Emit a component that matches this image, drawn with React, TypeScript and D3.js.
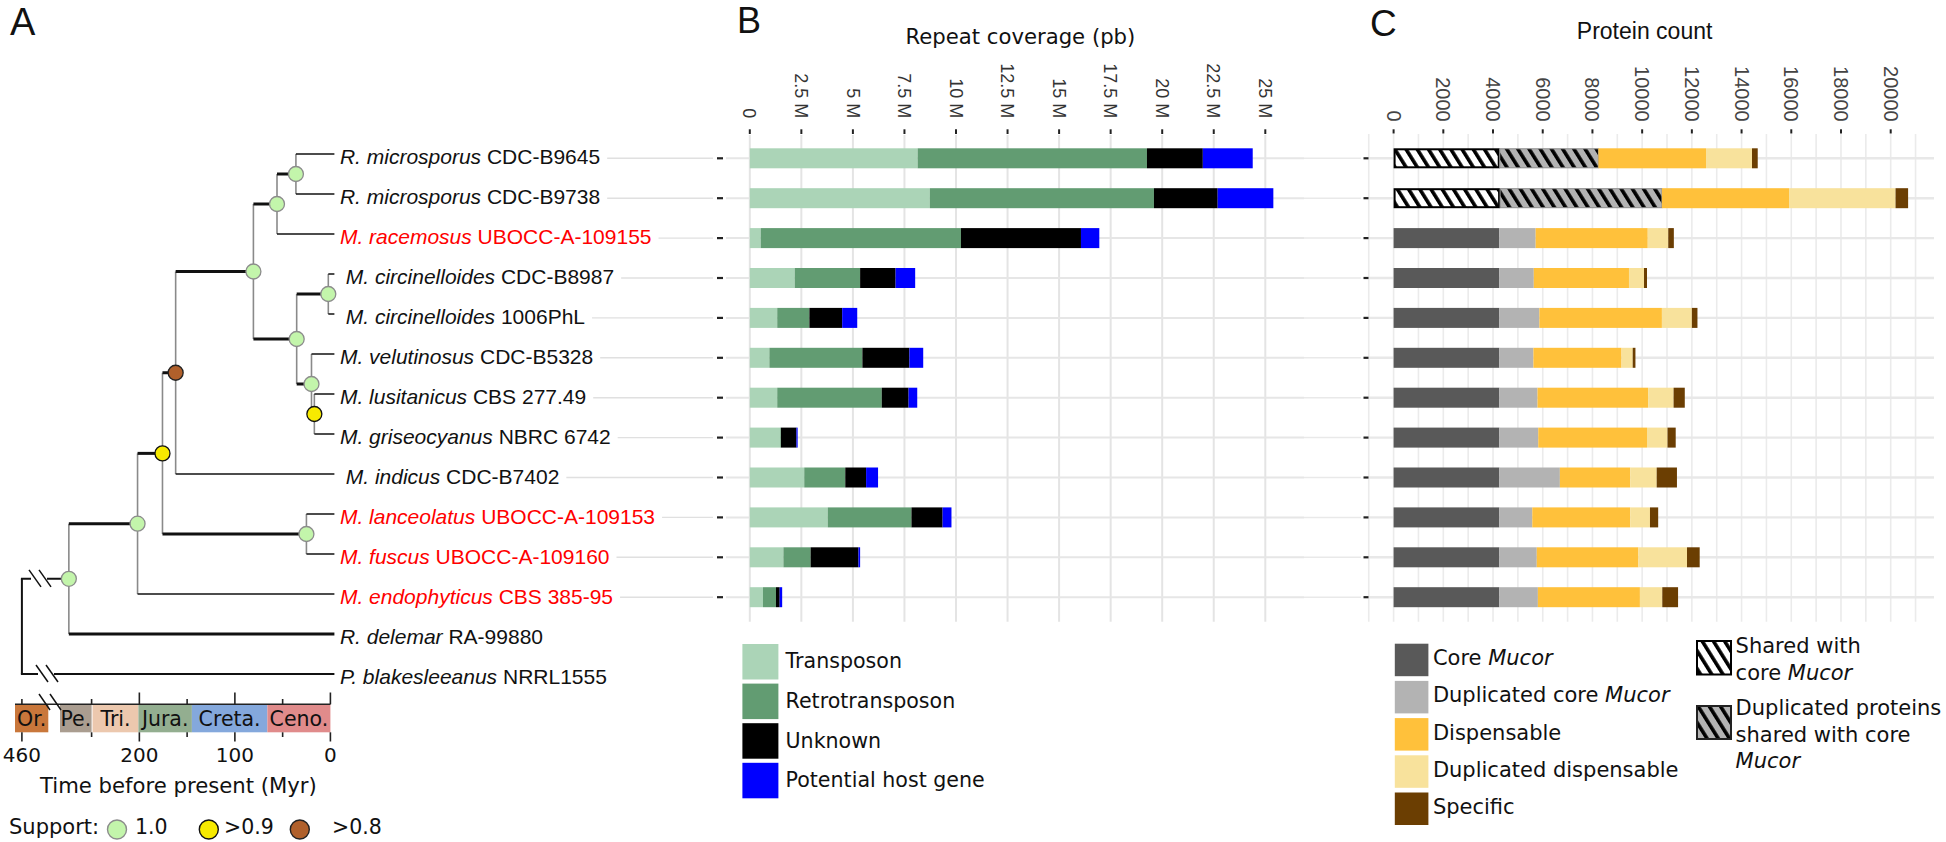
import React, { useMemo } from 'react';
import * as d3 from 'd3';

const W = 1946;
const H = 842;
const ARIAL = "'Liberation Sans', Arial, Helvetica, sans-serif";
const DV = "'DejaVu Sans', Verdana, sans-serif";

// ---------- Panel A data ----------
const species = [
  'R. microsporus', 'R. microsporus', 'M. racemosus', '\u00a0M. circinelloides', '\u00a0M. circinelloides',
  'M. velutinosus', 'M. lusitanicus', 'M. griseocyanus', '\u00a0M. indicus', 'M. lanceolatus',
  'M. fuscus', 'M. endophyticus', 'R. delemar', 'P. blakesleeanus',
];
const strains = [
  'CDC-B9645', 'CDC-B9738', 'UBOCC-A-109155', 'CDC-B8987', '1006PhL', 'CDC-B5328', 'CBS 277.49',
  'NBRC 6742', 'CDC-B7402', 'UBOCC-A-109153', 'UBOCC-A-109160', 'CBS 385-95', 'RA-99880', 'NRRL1555',
];
const newSpecies = [false, false, true, false, false, false, false, false, false, true, true, true, false, false];

type TN = { age: number; support?: number; tip?: number; children?: TN[] };
const tip = (i: number): TN => ({ age: 0, tip: i });
const tree: TN = {
  age: 460,
  children: [
    {
      age: 286, support: 1,
      children: [
        {
          age: 201.9, support: 1,
          children: [
            {
              age: 175.8, support: 0.95,
              children: [
                {
                  age: 162, support: 0.85,
                  children: [
                    {
                      age: 80.6, support: 1,
                      children: [
                        { age: 55.9, support: 1, children: [{ age: 36.1, support: 1, children: [tip(0), tip(1)] }, tip(2)] },
                        {
                          age: 35.3, support: 1,
                          children: [
                            { age: 2.2, support: 1, children: [tip(3), tip(4)] },
                            { age: 19.8, support: 1, children: [tip(5), { age: 16.8, support: 0.95, children: [tip(6), tip(7)] }] },
                          ],
                        },
                      ],
                    },
                    tip(8),
                  ],
                },
                { age: 25.1, support: 1, children: [tip(9), tip(10)] },
              ],
            },
            tip(11),
          ],
        },
        tip(12),
      ],
    },
    tip(13),
  ],
};

const periods = ['Or.', 'Pe.', 'Tri.', 'Jura.', 'Creta.', 'Ceno.'];
const periodStart = [490, 300, 249, 201, 145, 66];
const periodEnd = [350, 250, 201, 145, 66, 0];
const periodColors = ['#c9773b', '#aa9d90', '#ecc8ae', '#93ae90', '#84a8dc', '#e08b8b'];
const timeTicks = [460, 250, 200, 150, 100, 50, 0];
const timeLabels = [460, 200, 100, 0];

// ---------- Panel B data (Mb) ----------
const repeatKeys = ['transposon', 'retro', 'unknown', 'host'];
const repeatNames = ['Transposon', 'Retrotransposon', 'Unknown', 'Potential host gene'];
const repeatColors = ['#abd4b7', '#629c72', '#000000', '#0000ff'];
const transposon = [8.14, 8.73, 0.53, 2.18, 1.33, 0.95, 1.33, 1.48, 2.64, 3.78, 1.63, 0.64];
const retro = [11.12, 10.87, 9.71, 3.17, 1.56, 4.51, 5.07, 0.03, 1.99, 4.06, 1.32, 0.63];
const unknown = [2.71, 3.09, 5.82, 1.72, 1.59, 2.28, 1.3, 0.75, 1.01, 1.51, 2.32, 0.18];
const host = [2.42, 2.7, 0.89, 0.95, 0.73, 0.67, 0.42, 0.06, 0.58, 0.43, 0.08, 0.12];
const repeatTicks = [0, 2.5, 5, 7.5, 10, 12.5, 15, 17.5, 20, 22.5, 25];

// ---------- Panel C data (protein counts) ----------
const protKeys = ['core', 'dupCore', 'disp', 'dupDisp', 'specific'];
const protColors = ['#595959', '#b3b3b3', '#ffc13b', '#f8e29c', '#6b3e02'];
const core = [4270, 4285, 4255, 4255, 4255, 4255, 4255, 4255, 4255, 4255, 4255, 4255];
const dupCore = [3970, 6510, 1460, 1385, 1610, 1370, 1535, 1565, 2435, 1325, 1505, 1550];
const disp = [4330, 5115, 4510, 3830, 4930, 3545, 4450, 4375, 2830, 3940, 4090, 4105];
const dupDisp = [1850, 4285, 825, 605, 1205, 450, 1025, 825, 1065, 795, 1955, 900];
const specific = [230, 505, 225, 120, 225, 110, 450, 330, 815, 330, 510, 635];
const sharedRows = [true, true, false, false, false, false, false, false, false, false, false, false];
const protTicks = [0, 2000, 4000, 6000, 8000, 10000, 12000, 14000, 16000, 18000, 20000];

// ---------- helpers ----------
let ctx: CanvasRenderingContext2D | null = null;
function textWidth(s: string, font: string) {
  if (!ctx && typeof document !== 'undefined') ctx = document.createElement('canvas').getContext('2d');
  if (!ctx) return s.length * 11;
  ctx.font = font;
  return ctx.measureText(s).width;
}

function supportFill(s: number) {
  if (s >= 1) return { fill: '#c3f5ab', stroke: '#8c8c8c' };
  if (s >= 0.9) return { fill: '#f7ea00', stroke: '#111' };
  return { fill: '#b0602b', stroke: '#222' };
}

export default function App() {
  const timeX = d3.scaleLinear().domain([0, 250, 300, 350, 460, 490]).range([330.4, 91.6, 60, 48.3, 21.9, 15]);
  const tipY = d3.scaleLinear().domain([0, 13]).range([154, 674]);
  const rowY = d3.scaleLinear().domain([0, 11]).range([158.3, 597.2]);
  const xB = d3.scaleLinear().domain([0, 25]).range([749.8, 1265.3]);
  const xC = d3.scaleLinear().domain([0, 20000]).range([1393.6, 1890.7]);
  const barH = 20;

  const h = useMemo(() => {
    const r = d3.hierarchy<TN>(tree);
    r.eachAfter((n: any) => {
      if (!n.children) n.yy = tipY(n.data.tip);
      else n.yy = (n.children[0].yy + n.children[n.children.length - 1].yy) / 2;
    });
    return r;
  }, []);

  const tipExt = 4;
  const nodeX = (n: any) => timeX(n.data.age) + (n.children ? 0 : tipExt);

  const repeatRows = transposon.map((_, i) => ({ transposon: transposon[i], retro: retro[i], unknown: unknown[i], host: host[i] }));
  const repeatStack = d3.stack<any>().keys(repeatKeys)(repeatRows);
  const protRows = core.map((_, i) => ({ core: core[i], dupCore: dupCore[i], disp: disp[i], dupDisp: dupDisp[i], specific: specific[i] }));
  const protStack = d3.stack<any>().keys(protKeys)(protRows);

  const nodes: any[] = h.descendants();
  const links: any[] = h.links();

  return (
    <svg width={W} height={H} viewBox={`0 0 ${W} ${H}`} style={{ position: 'absolute', left: 0, top: 0, background: '#fff' }} fontFamily={ARIAL}>
      <defs>
        <pattern id="hatchW" patternUnits="userSpaceOnUse" width="9.5" height="9.5" patternTransform="rotate(-32)">
          <rect width="9.5" height="9.5" fill="#ffffff" />
          <rect width="3.6" height="9.5" fill="#000" />
        </pattern>
        <pattern id="hatchG" patternUnits="userSpaceOnUse" width="9.5" height="9.5" patternTransform="rotate(-32)">
          <rect width="9.5" height="9.5" fill="#b3b3b3" />
          <rect width="3.6" height="9.5" fill="#000" />
        </pattern>
      </defs>

      {/* panel letters */}
      <text x={10} y={35} fontSize={38} fill="#111">A</text>
      <text x={737} y={33} fontSize={36} fill="#111">B</text>
      <text x={1370} y={36} fontSize={37} fill="#111">C</text>

      {/* ========== Panel A: tree ========== */}
      <g>
        {nodes.filter((n) => n.children).map((n, k) => (
          <line key={'v' + k} x1={nodeX(n)} x2={nodeX(n)} y1={n.children[0].yy} y2={n.children[n.children.length - 1].yy}
            stroke={n.depth === 0 ? '#111' : '#8a8a8a'} strokeWidth={n.depth === 0 ? 2 : 1.6} />
        ))}
        {links.map((l, k) => {
          const t = l.target;
          let w = t.children ? 3 : 1.5;
          if (l.source.depth === 0) w = 2;
          else if (!t.children && t.data.tip === 12) w = 3;
          return <line key={'h' + k} x1={nodeX(l.source) - (l.source.depth === 0 ? 1 : 0)} x2={nodeX(t)} y1={t.yy} y2={t.yy} stroke="#111" strokeWidth={w} />;
        })}
        {/* axis breaks on the root branches */}
        {h.children!.map((c: any, k) => {
          const x0 = k === 0 ? 29 : 36;
          return (
            <g key={'br' + k} stroke="#111" strokeWidth={1.5}>
              <rect x={x0 + 2} y={c.yy - 3} width={16} height={6} fill="#fff" stroke="none" />
              <line x1={x0} y1={c.yy - 9} x2={x0 + 12} y2={c.yy + 8} />
              <line x1={x0 + 10} y1={c.yy - 9} x2={x0 + 22} y2={c.yy + 8} />
            </g>
          );
        })}
        {nodes.filter((n) => n.children && n.data.support !== undefined).map((n, k) => {
          const s = supportFill(n.data.support);
          return <circle key={'c' + k} cx={nodeX(n)} cy={n.yy} r={7.5} fill={s.fill} stroke={s.stroke} strokeWidth={1.3} />;
        })}
        {species.map((sp, i) => {
          const x = timeX(0) + tipExt + 5.5;
          const wTxt = textWidth(sp, "italic 21px 'Liberation Sans'") + textWidth(' ' + strains[i], "21px 'Liberation Sans'");
          return (
            <g key={'lab' + i}>
              <text x={x} y={tipY(i) + 9.5} fontSize={21} fill={newSpecies[i] ? '#ff0000' : '#111'} style={{ whiteSpace: 'pre' }}>
                <tspan fontStyle="italic">{sp}</tspan>
                <tspan>{' ' + strains[i]}</tspan>
              </text>
              {i < 12 && <line x1={x + wTxt + 7} x2={713} y1={rowY(i)} y2={rowY(i)} stroke="#e0e0e0" strokeWidth={1.4} />}
            </g>
          );
        })}

        {/* geological time scale */}
        {periods.map((p, i) => {
          const x1 = timeX(periodStart[i]);
          const x2 = timeX(periodEnd[i]);
          return (
            <g key={'p' + i}>
              <rect x={x1} y={704.3} width={x2 - x1} height={28} fill={periodColors[i]} />
              <text x={(x1 + x2) / 2} y={726} textAnchor="middle" fontFamily={DV} fontSize={20.5} fill="#111">{p}</text>
            </g>
          );
        })}
        <line x1={timeX(490)} x2={timeX(0)} y1={704.3} y2={704.3} stroke="#222" strokeWidth={1.6} />
        {timeTicks.map((t) => {
          const major = t === 200 || t === 100 || t === 0;
          const x = timeX(t);
          return (
            <g key={'tt' + t} stroke="#222" strokeWidth={1.6}>
              <line x1={x} x2={x} y1={major ? 692.5 : 699} y2={704.3} />
              <line x1={x} x2={x} y1={732.3} y2={major || t === 460 ? 741.5 : 737} />
            </g>
          );
        })}
        <g stroke="#111" strokeWidth={1.5}>
          <line x1={39} y1={694} x2={50} y2={710} />
          <line x1={50} y1={694} x2={61} y2={710} />
        </g>
        {timeLabels.map((t) => (
          <text key={'tl' + t} x={timeX(t)} y={761.7} textAnchor="middle" fontFamily={DV} fontSize={20} fill="#111">{t}</text>
        ))}
        <text x={40} y={793.3} fontFamily={DV} fontSize={21.2} fill="#111">Time before present (Myr)</text>

        {/* support legend */}
        <text x={9} y={833.5} fontFamily={DV} fontSize={21} fill="#111">Support:</text>
        {[1, 0.95, 0.85].map((s, k) => {
          const cx = [117, 208.8, 299.8][k];
          const f = supportFill(s);
          return <circle key={'sl' + k} cx={cx} cy={829.5} r={9.5} fill={f.fill} stroke={f.stroke} strokeWidth={1.4} />;
        })}
        <text x={135} y={833.5} fontFamily={DV} fontSize={20.5} fill="#111">1.0</text>
        <text x={224} y={833.5} fontFamily={DV} fontSize={20.5} fill="#111">&gt;0.9</text>
        <text x={332} y={833.5} fontFamily={DV} fontSize={20.5} fill="#111">&gt;0.8</text>
      </g>

      {/* ========== Panel B ========== */}
      <g>
        <text x={1020.4} y={44.3} textAnchor="middle" fontFamily={DV} fontSize={21.2} fill="#111">Repeat coverage (pb)</text>
        {repeatTicks.map((t) => (
          <line key={'bg' + t} x1={xB(t)} x2={xB(t)} y1={135} y2={621.7} stroke="#e4e4e4" strokeWidth={2} />
        ))}
        {transposon.map((_, i) => (
          <g key={'bh' + i}>
            <line x1={726} x2={1304} y1={rowY(i)} y2={rowY(i)} stroke="#e6e6e6" strokeWidth={2} />
            <line x1={1304} x2={1361} y1={rowY(i)} y2={rowY(i)} stroke="#e9e9e9" strokeWidth={1.5} />
            <line x1={717} x2={723} y1={rowY(i)} y2={rowY(i)} stroke="#222" strokeWidth={2.2} />
          </g>
        ))}
        {repeatTicks.map((t) => (
          <g key={'bt' + t}>
            <line x1={xB(t)} x2={xB(t)} y1={129.3} y2={134} stroke="#222" strokeWidth={2} />
            <text transform={`translate(${xB(t)},118.3) rotate(90)`} textAnchor="end" dy="0.35em" fontSize={18} fill="#333">
              {t === 0 ? '0' : `${t} M`}
            </text>
          </g>
        ))}
        {repeatStack.map((layer, k) => (
          <g key={'bl' + k} fill={repeatColors[k]}>
            {layer.map((d, i) => (
              <rect key={i} x={xB(d[0])} width={Math.max(0, xB(d[1]) - xB(d[0]))} y={rowY(i) - barH / 2} height={barH} />
            ))}
          </g>
        ))}
        {/* legend */}
        {repeatNames.map((n, k) => {
          const top = 644 + k * 39.6;
          return (
            <g key={'bleg' + k}>
              <rect x={742.4} y={top} width={36} height={35.5} fill={repeatColors[k]} />
              <text x={785.5} y={top + 24.3} fontFamily={DV} fontSize={20.6} fill="#111">{n}</text>
            </g>
          );
        })}
      </g>

      {/* ========== Panel C ========== */}
      <g>
        <text x={1644.6} y={39.3} textAnchor="middle" fontSize={23} fill="#111">Protein count</text>
        {d3.range(-1000, 21001, 1000).map((t) => (
          <line key={'cg' + t} x1={xC(t)} x2={xC(t)} y1={134} y2={621.7} stroke="#ebebeb" strokeWidth={1.6} />
        ))}
        {core.map((_, i) => (
          <g key={'ch' + i}>
            <line x1={1369} x2={1934} y1={rowY(i)} y2={rowY(i)} stroke="#e8e8e8" strokeWidth={2.4} />
            <line x1={1363.5} x2={1368.5} y1={rowY(i)} y2={rowY(i)} stroke="#222" strokeWidth={2.2} />
          </g>
        ))}
        {protTicks.map((t) => (
          <g key={'ct' + t}>
            <line x1={xC(t)} x2={xC(t)} y1={129.3} y2={133.5} stroke="#222" strokeWidth={2} />
            <text transform={`translate(${xC(t)},121.7) rotate(90)`} textAnchor="end" dy="0.35em" fontSize={20} fill="#444">
              {t}
            </text>
          </g>
        ))}
        {protStack.map((layer, k) => (
          <g key={'cl' + k}>
            {layer.map((d, i) => {
              const x = xC(d[0]);
              const w = Math.max(0, xC(d[1]) - xC(d[0]));
              const y = rowY(i) - barH / 2;
              if (sharedRows[i] && k === 0)
                return <rect key={i} x={x + 1} y={y + 1} width={w - 2} height={barH - 2} fill="url(#hatchW)" stroke="#000" strokeWidth={2} />;
              if (sharedRows[i] && k === 1)
                return <rect key={i} x={x} y={y + 0.5} width={w} height={barH - 1} fill="url(#hatchG)" stroke="#8a8a8a" strokeWidth={1} />;
              return <rect key={i} x={x} y={y} width={w} height={barH} fill={protColors[k]} />;
            })}
          </g>
        ))}
        {/* legend left */}
        {['Core ', 'Duplicated core ', 'Dispensable', 'Duplicated dispensable', 'Specific'].map((n, k) => {
          const top = 643.7 + k * 37.2;
          return (
            <g key={'cleg' + k}>
              <rect x={1394.8} y={top} width={33.6} height={32.5} fill={protColors[k]} />
              <text x={1432.9} y={top + 21.5} fontFamily={DV} fontSize={21} fill="#111" style={{ whiteSpace: 'pre' }}>
                {n}
                {k < 2 && <tspan fontStyle="italic">Mucor</tspan>}
              </text>
            </g>
          );
        })}
        {/* legend right (hatched) */}
        <rect x={1697} y={641} width={34} height={33.5} fill="url(#hatchW)" stroke="#000" strokeWidth={2} />
        <text x={1735.6} y={653.3} fontFamily={DV} fontSize={21} fill="#111">Shared with</text>
        <text x={1735.6} y={680} fontFamily={DV} fontSize={21} fill="#111" style={{ whiteSpace: 'pre' }}>
          core <tspan fontStyle="italic">Mucor</tspan>
        </text>
        <rect x={1697} y={706} width={34} height={33} fill="url(#hatchG)" stroke="#222" strokeWidth={2} />
        <text x={1735.6} y={715} fontFamily={DV} fontSize={21} fill="#111">Duplicated proteins</text>
        <text x={1735.6} y={741.7} fontFamily={DV} fontSize={21} fill="#111">shared with core</text>
        <text x={1735.6} y={768.3} fontFamily={DV} fontSize={21} fill="#111" fontStyle="italic">Mucor</text>
      </g>
    </svg>
  );
}
